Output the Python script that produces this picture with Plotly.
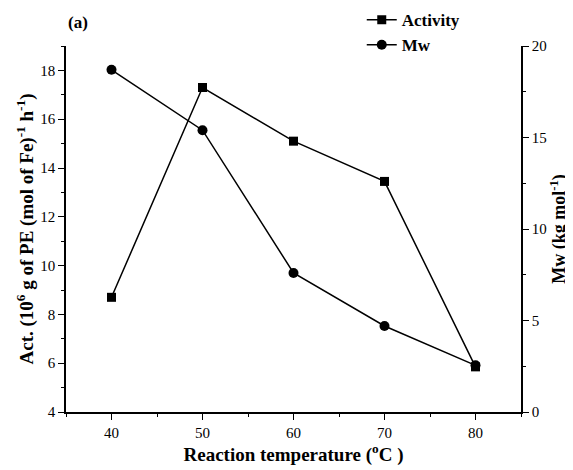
import plotly.graph_objects as go

temps = [40, 50, 60, 70, 80]
activity = [8.7, 17.3, 15.1, 13.45, 5.85]
mw = [18.7, 15.4, 7.6, 4.7, 2.55]

font_serif = "Liberation Serif"

fig = go.Figure()
fig.add_trace(go.Scatter(x=temps, y=activity, name="Activity", mode="lines+markers",
                         line=dict(color="black", width=1.5),
                         marker=dict(symbol="square", size=9, color="black")))
fig.add_trace(go.Scatter(x=temps, y=mw, name="Mw", mode="lines+markers", yaxis="y2",
                         line=dict(color="black", width=1.5),
                         marker=dict(symbol="circle", size=10, color="black")))

axis_common = dict(showline=True, linecolor="black", linewidth=1.5, ticks="outside",
                   ticklen=6, tickwidth=1.2, tickcolor="black", showgrid=False, zeroline=False,
                   tickfont=dict(family=font_serif, size=15, color="black"))

fig.update_layout(
    width=565, height=462,
    margin=dict(l=58, r=52, t=38, b=58, autoexpand=False),
    paper_bgcolor="white", plot_bgcolor="white",
    showlegend=True,
    legend=dict(x=0.65, y=1.12, xanchor="left", yanchor="top",
                font=dict(family=font_serif, size=17, color="black", weight="bold"),
                bgcolor="rgba(0,0,0,0)", tracegroupgap=0, itemwidth=30),
    xaxis=dict(range=[35, 85], tickvals=[40, 50, 60, 70, 80],
               minor=dict(ticks="outside", ticklen=3, tickcolor="black", dtick=5, tick0=35),
               title=dict(text="Reaction temperature (<sup>o</sup>C )",
                          font=dict(family=font_serif, size=19, color="black", weight="bold"),
                          standoff=6),
               **axis_common),
    yaxis=dict(range=[4, 19], tickvals=[4, 6, 8, 10, 12, 14, 16, 18],
               minor=dict(ticks="outside", ticklen=3, tickcolor="black", dtick=1, tick0=4),
               title=dict(text="Act. (10<sup>6</sup> g of PE (mol of Fe)<sup>-1</sup> h<sup>-1</sup>)",
                          font=dict(family=font_serif, size=19, color="black", weight="bold"),
                          standoff=2),
               **axis_common),
    yaxis2=dict(range=[0, 20], tickvals=[0, 5, 10, 15, 20], overlaying="y", side="right",
                minor=dict(ticks="outside", ticklen=3, tickcolor="black", dtick=2.5, tick0=0),
                title=dict(text="Mw (kg mol<sup>-1</sup>)",
                           font=dict(family=font_serif, size=18, color="black", weight="bold"),
                           standoff=3),
                **axis_common),
    annotations=[dict(text="<b>(a)</b>", x=0.0, y=1.063, xref="paper", yref="paper",
                      xanchor="left", yanchor="middle", showarrow=False,
                      font=dict(family=font_serif, size=17, color="black"))],
)

fig.write_html("out.html")
